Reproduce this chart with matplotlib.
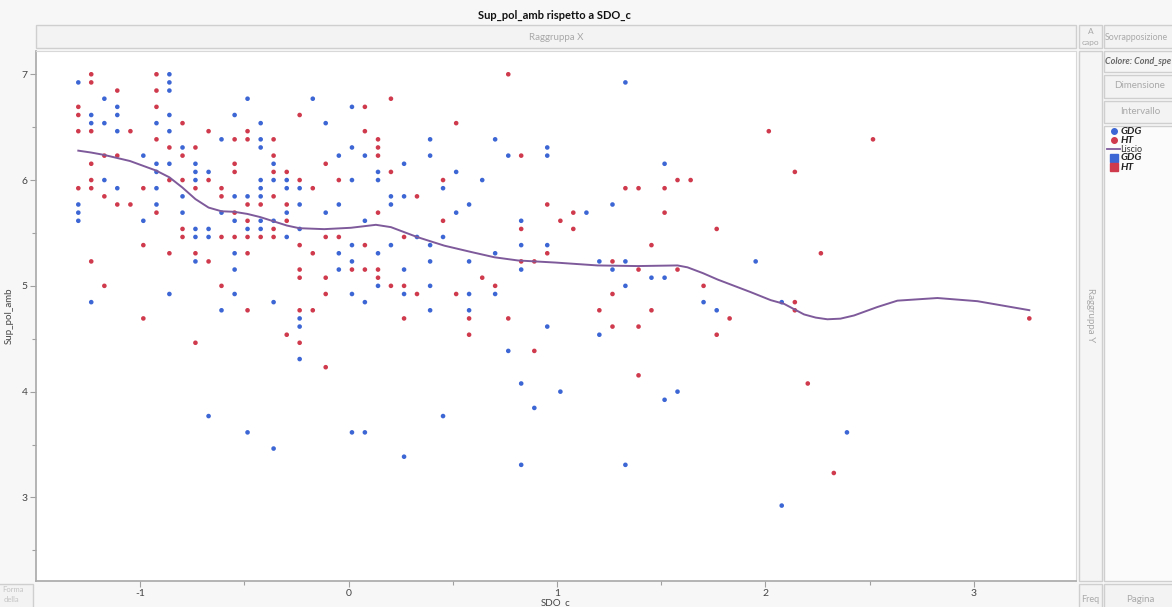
import matplotlib
matplotlib.use("Agg")
import matplotlib.pyplot as plt
from matplotlib.patches import Rectangle
from matplotlib.lines import Line2D

W, H = 1172, 607

# SDO_c / Sup_pol_amb per gruppo (una riga per colonna di SDO_c)
gdg_points = [
    (-1.297, 6.923), (-1.297, 5.769), (-1.297, 5.692), (-1.297, 5.615),
    (-1.235, 6.615), (-1.235, 6.538), (-1.235, 4.846),
    (-1.172, 6.769), (-1.172, 6.538), (-1.172, 6.000),
    (-1.110, 6.692), (-1.110, 6.615), (-1.110, 6.462), (-1.110, 5.923),
    (-0.985, 6.231), (-0.985, 5.615),
    (-0.922, 6.538), (-0.922, 6.154), (-0.922, 6.077), (-0.922, 5.923), (-0.922, 5.769),
    (-0.860, 7.000), (-0.860, 6.923), (-0.860, 6.846), (-0.860, 6.615), (-0.860, 6.462), (-0.860, 6.154), (-0.860, 4.923),
    (-0.797, 6.308), (-0.797, 5.846), (-0.797, 5.692),
    (-0.735, 6.154), (-0.735, 6.077), (-0.735, 6.000), (-0.735, 5.538), (-0.735, 5.462), (-0.735, 5.231),
    (-0.672, 6.077), (-0.672, 5.538), (-0.672, 5.462), (-0.672, 3.769),
    (-0.610, 6.385), (-0.610, 5.692), (-0.610, 4.769),
    (-0.547, 6.615), (-0.547, 5.846), (-0.547, 5.615), (-0.547, 5.308), (-0.547, 5.154), (-0.547, 4.923),
    (-0.485, 6.769), (-0.485, 5.846), (-0.485, 5.538), (-0.485, 3.615),
    (-0.422, 6.538), (-0.422, 6.385), (-0.422, 6.308), (-0.422, 6.000), (-0.422, 5.923), (-0.422, 5.846), (-0.422, 5.615), (-0.422, 5.538),
    (-0.360, 6.154), (-0.360, 6.000), (-0.360, 5.615), (-0.360, 4.846), (-0.360, 3.462),
    (-0.297, 6.000), (-0.297, 5.923), (-0.297, 5.692), (-0.297, 5.462),
    (-0.235, 5.923), (-0.235, 5.769), (-0.235, 5.538), (-0.235, 4.692), (-0.235, 4.615), (-0.235, 4.308),
    (-0.172, 6.769),
    (-0.110, 6.538), (-0.110, 5.692),
    (-0.047, 6.231), (-0.047, 5.769), (-0.047, 5.308), (-0.047, 5.154),
    (0.016, 6.692), (0.016, 6.308), (0.016, 6.000), (0.016, 5.385), (0.016, 5.231), (0.016, 4.923), (0.016, 3.615),
    (0.078, 6.231), (0.078, 5.615), (0.078, 4.846), (0.078, 3.615),
    (0.141, 6.077), (0.141, 6.000), (0.141, 5.308), (0.141, 5.000),
    (0.203, 5.846), (0.203, 5.769), (0.203, 5.385),
    (0.266, 6.154), (0.266, 5.846), (0.266, 5.154), (0.266, 4.923), (0.266, 3.385),
    (0.328, 5.462),
    (0.391, 6.385), (0.391, 6.231), (0.391, 5.385), (0.391, 5.231), (0.391, 5.000), (0.391, 4.769),
    (0.453, 5.923), (0.453, 5.462), (0.453, 3.769),
    (0.516, 6.077), (0.516, 5.692),
    (0.578, 5.769), (0.578, 5.231), (0.578, 4.923), (0.578, 4.769),
    (0.641, 6.000),
    (0.703, 6.385), (0.703, 5.308), (0.703, 4.923),
    (0.766, 6.231), (0.766, 4.385),
    (0.828, 5.615), (0.828, 5.385), (0.828, 5.154), (0.828, 4.077), (0.828, 3.308),
    (0.891, 3.846),
    (0.953, 6.308), (0.953, 6.231), (0.953, 5.385), (0.953, 4.615),
    (1.016, 4.000),
    (1.141, 5.692),
    (1.203, 5.231), (1.203, 4.538),
    (1.266, 5.769), (1.266, 5.154),
    (1.328, 6.923), (1.328, 5.231), (1.328, 5.000), (1.328, 3.308),
    (1.453, 5.077),
    (1.516, 6.154), (1.516, 5.077), (1.516, 3.923),
    (1.578, 4.000),
    (1.703, 4.846),
    (1.766, 4.769),
    (1.953, 5.231),
    (2.078, 4.846), (2.078, 2.923),
    (2.391, 3.615),
]

ht_points = [
    (-1.297, 6.692), (-1.297, 6.615), (-1.297, 6.462), (-1.297, 5.923),
    (-1.235, 7.000), (-1.235, 6.923), (-1.235, 6.462), (-1.235, 6.154), (-1.235, 6.000), (-1.235, 5.923), (-1.235, 5.231),
    (-1.172, 6.231), (-1.172, 5.846), (-1.172, 5.000),
    (-1.110, 6.846), (-1.110, 6.231), (-1.110, 5.769),
    (-1.047, 6.462), (-1.047, 5.769),
    (-0.985, 5.923), (-0.985, 5.385), (-0.985, 4.692),
    (-0.922, 7.000), (-0.922, 6.846), (-0.922, 6.692), (-0.922, 6.385), (-0.922, 5.692),
    (-0.860, 6.308), (-0.860, 6.000), (-0.860, 5.308),
    (-0.797, 6.538), (-0.797, 6.231), (-0.797, 6.000), (-0.797, 5.538), (-0.797, 5.462),
    (-0.735, 6.308), (-0.735, 5.923), (-0.735, 5.308), (-0.735, 4.462),
    (-0.672, 6.462), (-0.672, 6.000), (-0.672, 5.231),
    (-0.610, 5.923), (-0.610, 5.846), (-0.610, 5.462), (-0.610, 5.000),
    (-0.547, 6.385), (-0.547, 6.154), (-0.547, 6.077), (-0.547, 5.692), (-0.547, 5.462),
    (-0.485, 6.462), (-0.485, 6.385), (-0.485, 5.769), (-0.485, 5.615), (-0.485, 5.462), (-0.485, 5.308), (-0.485, 4.769),
    (-0.422, 5.769), (-0.422, 5.462),
    (-0.360, 6.385), (-0.360, 6.231), (-0.360, 6.077), (-0.360, 5.846), (-0.360, 5.538), (-0.360, 5.462),
    (-0.297, 6.077), (-0.297, 5.769), (-0.297, 5.615), (-0.297, 4.538),
    (-0.235, 6.615), (-0.235, 6.000), (-0.235, 5.385), (-0.235, 5.154), (-0.235, 5.077), (-0.235, 4.769), (-0.235, 4.462),
    (-0.172, 5.923), (-0.172, 5.308), (-0.172, 4.769),
    (-0.110, 6.154), (-0.110, 5.462), (-0.110, 5.077), (-0.110, 4.923), (-0.110, 4.231),
    (-0.047, 6.000), (-0.047, 5.462),
    (0.016, 5.154),
    (0.078, 6.692), (0.078, 6.462), (0.078, 5.385), (0.078, 5.154),
    (0.141, 6.385), (0.141, 6.308), (0.141, 6.231), (0.141, 5.692), (0.141, 5.154), (0.141, 5.077),
    (0.203, 6.769), (0.203, 6.077), (0.203, 5.000),
    (0.266, 5.462), (0.266, 5.000), (0.266, 4.692),
    (0.328, 5.846), (0.328, 4.923),
    (0.453, 6.000), (0.453, 5.615),
    (0.516, 6.538), (0.516, 4.923),
    (0.578, 4.692), (0.578, 4.538),
    (0.641, 5.077),
    (0.703, 5.000),
    (0.766, 7.000), (0.766, 4.692),
    (0.828, 6.231), (0.828, 5.538), (0.828, 5.231),
    (0.891, 5.231), (0.891, 4.385),
    (0.953, 5.769), (0.953, 5.308),
    (1.016, 5.615),
    (1.078, 5.692), (1.078, 5.538),
    (1.203, 4.769),
    (1.266, 5.231), (1.266, 4.923), (1.266, 4.615),
    (1.328, 5.923),
    (1.391, 5.923), (1.391, 5.154), (1.391, 4.615), (1.391, 4.154),
    (1.453, 5.385), (1.453, 4.769),
    (1.516, 5.923), (1.516, 5.692),
    (1.578, 6.000), (1.578, 5.154),
    (1.641, 6.000),
    (1.703, 5.000),
    (1.766, 5.538), (1.766, 4.538),
    (1.828, 4.692),
    (2.016, 6.462),
    (2.141, 6.077), (2.141, 4.846), (2.141, 4.769),
    (2.203, 4.077),
    (2.266, 5.308),
    (2.328, 3.231),
    (2.516, 6.385),
    (3.266, 4.692),
]

# curva "Liscio"
smooth_x = [-1.297, -1.235, -1.174, -1.049, -0.924, -0.860, -0.798, -0.735, -0.672,
            -0.610, -0.549, -0.486, -0.424, -0.360, -0.296, -0.237, -0.117, 0.011,
            0.131, 0.203, 0.331, 0.459, 0.588, 0.700, 0.812, 0.994, 1.194, 1.386,
            1.578, 1.626, 1.700, 1.770, 1.930, 2.025, 2.089, 2.185, 2.241, 2.297,
            2.360, 2.425, 2.537, 2.633, 2.825, 3.017, 3.266]
smooth_y = [6.278, 6.260, 6.238, 6.180, 6.090, 6.026, 5.930, 5.820, 5.740,
            5.705, 5.700, 5.680, 5.650, 5.610, 5.570, 5.545, 5.536, 5.549,
            5.577, 5.555, 5.460, 5.380, 5.320, 5.270, 5.240, 5.220, 5.193, 5.187,
            5.193, 5.175, 5.120, 5.060, 4.940, 4.865, 4.830, 4.730, 4.700, 4.684,
            4.690, 4.720, 4.800, 4.860, 4.885, 4.855, 4.770]

x_ticks = [-1, 0, 1, 2, 3]
y_ticks = [3, 4, 5, 6, 7]

blue = "#3d66d5"
red = "#d03a4d"
purple = "#7e5a9b"
ui_text = "#a9a9a9"
border = "#cfcfcf"

plt.rcParams["font.family"] = ["Lato", "DejaVu Sans"]

fig = plt.figure(figsize=(W / 100, H / 100), dpi=100, facecolor="#f7f7f7")


def box(x, y, w, h, face="#f3f3f3", edge=border, lw=1.0):
    # rettangolo in pixel con origine in alto a sinistra
    r = Rectangle((x / W, 1 - (y + h) / H), w / W, h / H, transform=fig.transFigure,
                  facecolor=face, edgecolor=edge, linewidth=lw)
    fig.add_artist(r)


def label(x, y, s, **kw):
    fig.text(x / W, 1 - y / H, s, **kw)


# pannelli dell'interfaccia
box(36, 25, 1040, 23)
label(556, 37, "Raggruppa X", ha="center", va="center", fontsize=7, color=ui_text)
box(1079, 25, 23, 23)
label(1090.5, 31, "A", ha="center", va="center", fontsize=6, color=ui_text)
label(1090.5, 42, "capo", ha="center", va="center", fontsize=6, color=ui_text)
box(1104, 25, 72, 23)
label(1105, 37, "Sovrapposizione", ha="left", va="center", fontsize=6.3, color=ui_text)
box(1079, 51, 23, 530, face="#f5f5f5")
label(1090.5, 315, "Raggruppa Y", ha="center", va="center", fontsize=7,
      color=ui_text, rotation=270)
box(1104, 51, 72, 21, face="#f5f5f5")
label(1105, 61, "Colore: Cond_spe", ha="left", va="center", fontsize=6.5,
      color="#666666", fontweight="bold", fontstyle="italic")
box(1104, 75, 72, 23)
label(1140, 86, "Dimensione", ha="center", va="center", fontsize=7, color=ui_text)
box(1104, 101, 72, 22)
label(1140, 112, "Intervallo", ha="center", va="center", fontsize=7, color=ui_text)
box(1104, 126, 72, 455, face="#fbfbfb")
box(1079, 584, 23, 25)
label(1090.5, 600, "Freq", ha="center", va="center", fontsize=6.5, color=ui_text)
box(1104, 584, 72, 25)
label(1140, 600, "Pagina", ha="center", va="center", fontsize=7, color=ui_text)
box(-2, 584, 35, 25, face="#f3f3f3")
label(2, 590, "Forma", ha="left", va="center", fontsize=5.5, color="#c4c4c4")
label(4, 600, "della", ha="left", va="center", fontsize=5.5, color="#c4c4c4")

# legenda
legend_rows = [
    ("dot", blue, "GDG", 131), ("dot", red, "HT", 140), ("line", purple, "Liscio", 149),
    ("sq", blue, "GDG", 158), ("sq", red, "HT", 167),
]
for kind, col, name, yy in legend_rows:
    fx, fy = 1114 / W, 1 - yy / H
    if kind == "dot":
        fig.add_artist(Line2D([fx], [fy], marker="o", markersize=4, color=col,
                              linestyle="none", transform=fig.transFigure))
    elif kind == "sq":
        fig.add_artist(Line2D([fx], [fy], marker="s", markersize=6, color=col,
                              linestyle="none", transform=fig.transFigure))
    else:
        fig.add_artist(Line2D([1107 / W, 1120 / W], [fy, fy], color=col, lw=1.3,
                              transform=fig.transFigure))
    if kind == "line":
        label(1120, yy, name, ha="left", va="center", fontsize=6.5, color="#333333")
    else:
        label(1121, yy, name, ha="left", va="center", fontsize=7.5, color="#222222",
              fontweight="bold", fontstyle="italic")

# grafico
ax = fig.add_axes([36 / W, (H - 581) / H, (1076 - 36) / W, (581 - 51) / H])
ax.set_facecolor("white")

gx, gy = zip(*gdg_points)
hx, hy = zip(*ht_points)
ax.scatter(gx, gy, s=11, color=blue, edgecolors="none", zorder=3)
ax.scatter(hx, hy, s=11, color=red, edgecolors="none", zorder=3)
ax.plot(smooth_x, smooth_y, color=purple, lw=1.4, zorder=4)

ax.set_xlim(-1.5, 3.49)
ax.set_ylim(2.21, 7.22)
ax.set_xticks(x_ticks)
ax.set_xticklabels([str(t) for t in x_ticks])
ax.set_xticks([-0.5, 0.5, 1.5, 2.5], minor=True)
ax.set_yticks(y_ticks)
ax.set_yticklabels([str(t) for t in y_ticks])
ax.set_yticks([2.5, 3.5, 4.5, 5.5, 6.5], minor=True)
ax.tick_params(which="both", direction="out", color="#a0a0a0", labelsize=7.5,
               labelcolor="#444444")
ax.tick_params(which="major", length=4, width=0.8, pad=2)
ax.tick_params(which="minor", length=3, width=0.8)
for side in ["left", "bottom"]:
    ax.spines[side].set_color("#a8a8a8")
    ax.spines[side].set_linewidth(1.2)
for side in ["top", "right"]:
    ax.spines[side].set_color("#d8d8d8")
ax.set_xlabel("SDO_c", fontsize=7, color="#444444", labelpad=0)
ax.set_ylabel("Sup_pol_amb", fontsize=7, color="#444444", labelpad=6)

label(554, 15, "Sup_pol_amb rispetto a SDO_c", ha="center", va="center",
      fontsize=8, fontweight="bold", color="#111111")

fig.savefig("out.png", dpi=100, facecolor=fig.get_facecolor())
